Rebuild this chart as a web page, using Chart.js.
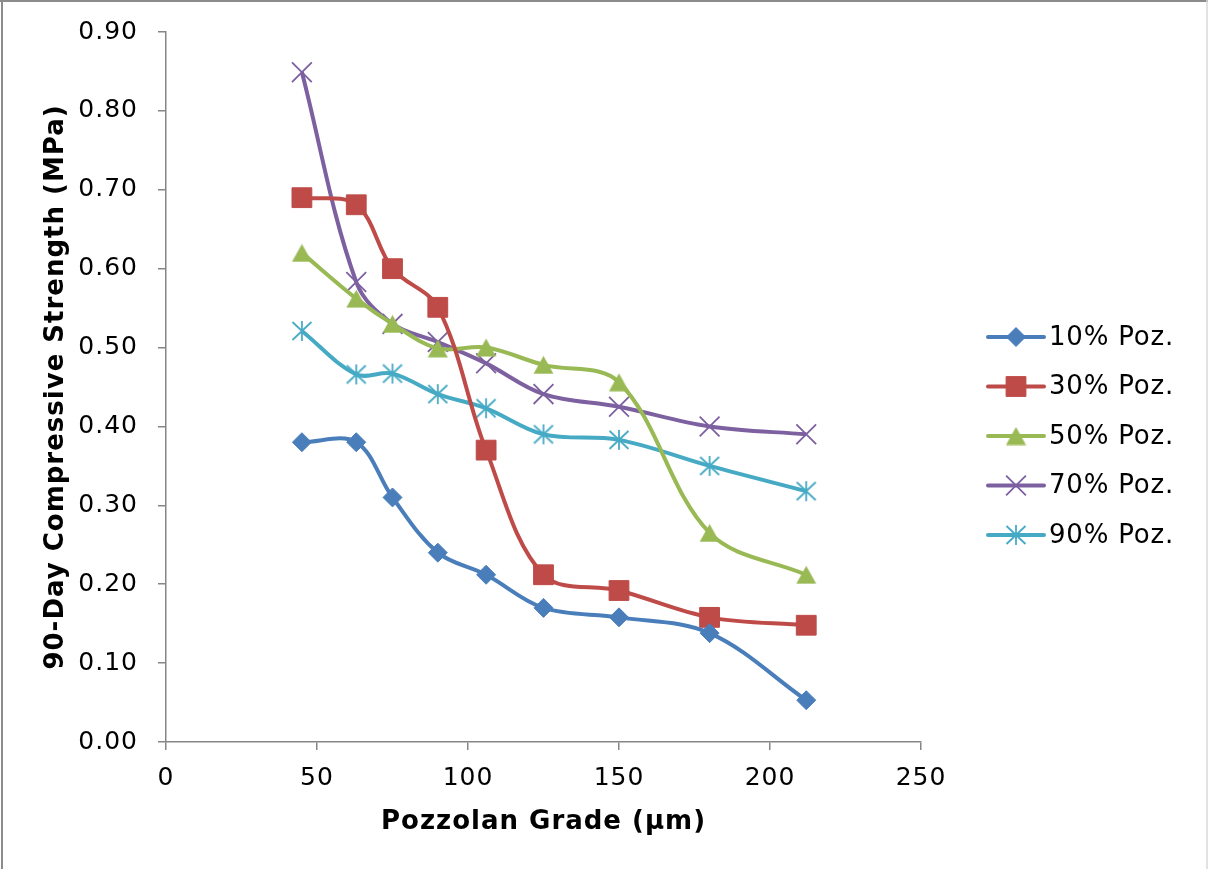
<!DOCTYPE html>
<html>
<head>
<meta charset="utf-8">
<script src="https://cdn.jsdelivr.net/npm/chart.js@4.4.1/dist/chart.umd.min.js"></script>
<style>
  html, body { margin: 0; padding: 0; background: #ffffff; }
  #wrap { position: relative; width: 1208px; height: 869px; }
</style>
</head>
<body>
<div id="wrap"><canvas id="chart" width="1208" height="869"></canvas></div>
<script>
// Pozzolan particle grade (µm)
const grades = [45, 63, 75, 90, 106, 125, 150, 180, 212];

// 90-day compressive strength (MPa) for each pozzolan replacement level
const poz10 = [0.38, 0.38, 0.31, 0.24, 0.212, 0.17, 0.158, 0.138, 0.053];
const poz30 = [0.69, 0.681, 0.60, 0.551, 0.37, 0.212, 0.192, 0.158, 0.148];
const poz50 = [0.62, 0.562, 0.53, 0.499, 0.50, 0.478, 0.456, 0.265, 0.212];
const poz70 = [0.849, 0.583, 0.53, 0.507, 0.48, 0.441, 0.425, 0.40, 0.39];
const poz90 = [0.521, 0.466, 0.467, 0.441, 0.423, 0.39, 0.383, 0.35, 0.318];

const seriesNames = ['10% Poz.', '30% Poz.', '50% Poz.', '70% Poz.', '90% Poz.'];
const xTicks = [0, 50, 100, 150, 200, 250];
const yTicks = [0, 0.1, 0.2, 0.3, 0.4, 0.5, 0.6, 0.7, 0.8, 0.9];

const colors = ['#4A7EBB', '#BE4B48', '#98B954', '#7D60A0', '#46AAC5'];
const FONT = "'DejaVu Sans', Verdana, sans-serif";

// triangle marker, centred on its bounding box
function triangleMarker(color) {
  const c = document.createElement('canvas');
  c.width = 21; c.height = 19;
  const g = c.getContext('2d');
  g.fillStyle = color;
  g.beginPath();
  g.moveTo(10.5, 0.5);
  g.lineTo(20.5, 18.5);
  g.lineTo(0.5, 18.5);
  g.closePath();
  g.fill();
  return c;
}
// asterisk marker: X with a vertical stroke
function asteriskMarker(color) {
  const c = document.createElement('canvas');
  c.width = 22; c.height = 22;
  const g = c.getContext('2d');
  g.strokeStyle = color;
  g.lineWidth = 1.8;
  g.beginPath();
  g.moveTo(1.5, 2); g.lineTo(20.5, 20);
  g.moveTo(20.5, 2); g.lineTo(1.5, 20);
  g.moveTo(11, 1); g.lineTo(11, 21);
  g.stroke();
  return c;
}

const markerStyles = [
  { pointStyle: 'rectRot', radius: 9.5, borderWidth: 1 },
  { pointStyle: 'rect', radius: 14, borderWidth: 1 },
  { pointStyle: triangleMarker(colors[2]), radius: 10, borderWidth: 0 },
  { pointStyle: 'crossRot', radius: 14, borderWidth: 1.8 },
  { pointStyle: asteriskMarker(colors[4]), radius: 11, borderWidth: 0 }
];

const allSeries = [poz10, poz30, poz50, poz70, poz90];

const datasets = allSeries.map((vals, i) => ({
  label: seriesNames[i],
  data: grades.map((g, k) => ({ x: g, y: vals[k] })),
  borderColor: colors[i],
  backgroundColor: colors[i],
  borderWidth: 4,
  tension: 0.35,
  pointStyle: markerStyles[i].pointStyle,
  pointRadius: markerStyles[i].radius,
  pointBorderWidth: markerStyles[i].borderWidth,
  pointBackgroundColor: colors[i],
  pointBorderColor: colors[i],
  clip: false
}));

// slightly wider letter spacing for the axis text
const textSpacing = {
  id: 'textSpacing',
  beforeDraw(chart) { chart.ctx.letterSpacing = '1px'; },
  afterDraw(chart) { chart.ctx.letterSpacing = '0px'; }
};

// legend on the right: line sample with marker, then label
const sideLegend = {
  id: 'sideLegend',
  afterDraw(chart) {
    const ctx = chart.ctx;
    const x0 = 988, x1 = 1044, xm = 1016, tx = 1049;
    const y0 = 337, step = 49.5;
    ctx.save();
    datasets.forEach((ds, i) => {
      const y = y0 + i * step;
      ctx.strokeStyle = colors[i];
      ctx.lineWidth = 4;
      ctx.lineCap = 'round';
      ctx.beginPath();
      ctx.moveTo(x0, y);
      ctx.lineTo(x1, y);
      ctx.stroke();
      ctx.lineCap = 'butt';
      ctx.fillStyle = colors[i];
      ctx.strokeStyle = colors[i];
      ctx.lineWidth = markerStyles[i].borderWidth;
      const st = markerStyles[i].pointStyle;
      if (typeof st === 'string') {
        Chart.helpers.drawPoint(ctx, {
          pointStyle: st, radius: markerStyles[i].radius, rotation: 0,
          borderWidth: markerStyles[i].borderWidth
        }, xm, y);
      } else {
        ctx.drawImage(st, xm - st.width / 2, y - st.height / 2);
      }
      ctx.fillStyle = '#000000';
      ctx.font = '26px ' + FONT;
      ctx.letterSpacing = '0.8px';
      ctx.textAlign = 'left';
      ctx.textBaseline = 'middle';
      ctx.fillText(ds.label, tx, y + 1);
    });
    ctx.restore();
  }
};

// thin grey frame round the figure
const frame = {
  id: 'frame',
  afterDraw(chart) {
    const ctx = chart.ctx;
    ctx.save();
    ctx.strokeStyle = '#8c8c8c';
    ctx.lineWidth = 2;
    ctx.beginPath();
    ctx.moveTo(0, 1); ctx.lineTo(1208, 1);
    ctx.moveTo(2, 0); ctx.lineTo(2, 869);
    ctx.stroke();
    ctx.strokeStyle = '#d9d9d9';
    ctx.lineWidth = 1.5;
    ctx.beginPath();
    ctx.moveTo(1207, 0); ctx.lineTo(1207, 869);
    ctx.stroke();
    ctx.restore();
  }
};

const axisGrey = '#868686';

new Chart(document.getElementById('chart'), {
  type: 'line',
  data: { datasets },
  plugins: [textSpacing, sideLegend, frame],
  options: {
    responsive: false,
    animation: false,
    events: [],
    layout: { padding: { left: 0, top: 32, right: 287, bottom: 0 } },
    plugins: { legend: { display: false }, tooltip: { enabled: false } },
    scales: {
      x: {
        type: 'linear',
        min: 0, max: 250,
        afterBuildTicks: s => { s.ticks = xTicks.map(v => ({ value: v })); },
        afterFit: s => { s.height = 127; s.paddingLeft = 0; s.paddingRight = 0; },
        border: { display: true, color: axisGrey, width: 1.5 },
        grid: { display: true, drawOnChartArea: false, drawTicks: true, tickLength: 8, color: axisGrey, lineWidth: 1.5 },
        ticks: { color: '#000000', padding: 13, maxRotation: 0, font: { family: FONT, size: 25 } },
        title: {
          display: true, text: 'Pozzolan Grade (μm)', color: '#000000',
          font: { family: FONT, size: 26, weight: 'bold' },
          padding: { top: 0, bottom: 31 }
        }
      },
      y: {
        type: 'linear',
        min: 0, max: 0.9,
        afterBuildTicks: s => { s.ticks = yTicks.map(v => ({ value: v })); },
        afterFit: s => { s.width = 166; s.paddingTop = 0; s.paddingBottom = 0; },
        border: { display: true, color: axisGrey, width: 1.5 },
        grid: { display: true, drawOnChartArea: false, drawTicks: true, tickLength: 8, color: axisGrey, lineWidth: 1.5 },
        ticks: {
          color: '#000000', padding: 20, font: { family: FONT, size: 25 },
          callback: v => v.toFixed(2)
        },
        title: {
          display: true, text: '90-Day Compressive Strength (MPa)', color: '#000000',
          font: { family: FONT, size: 26, weight: 'bold' },
          padding: { top: 41, bottom: 0 }
        }
      }
    }
  }
});
</script>
</body>
</html>
